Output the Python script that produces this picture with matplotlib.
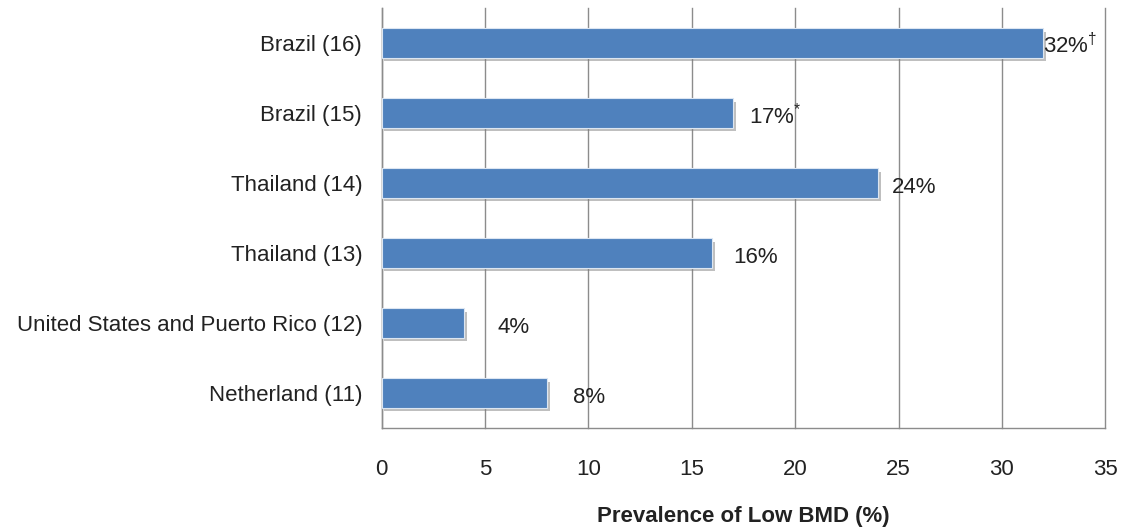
import matplotlib
matplotlib.use("Agg")
import matplotlib.pyplot as plt
from matplotlib import patheffects as pe

plt.rcParams['font.family'] = ['Liberation Sans', 'DejaVu Sans']
plt.rcParams['mathtext.fontset'] = 'custom'
plt.rcParams['mathtext.rm'] = 'Liberation Sans'
plt.rcParams['mathtext.it'] = 'Liberation Sans'

categories = ["Netherland (11)", "United States and Puerto Rico (12)", "Thailand (13)",
              "Thailand (14)", "Brazil (15)", "Brazil (16)"]
values = [8, 4, 16, 24, 17, 32]
labels = ["8%", "4%", "16%", "24%", r"17%$^{*}$", r"32%$^{\dagger}$"]
label_offsets = [1.25, 1.6, 1.0, 0.7, 0.75, 0.0]
xticks = [0, 5, 10, 15, 20, 25, 30, 35]

fig = plt.figure(figsize=(11.29, 5.29), dpi=100)
ax = fig.add_axes([0.338, 0.191, 0.641, 0.794])

pos = list(range(len(categories)))
bars = ax.barh(pos, values, height=0.42, color="#4F81BD", edgecolor="#DCE6F2",
               linewidth=0.8, zorder=3)
for b in bars:
    b.set_path_effects([pe.SimplePatchShadow(offset=(2, -2.5), shadow_rgbFace="#808080", alpha=0.5),
                        pe.Normal()])

for p, v, t, o in zip(pos, values, labels, label_offsets):
    ax.text(v + o, p - 0.15, t, va="baseline", ha="left", fontsize=16, color="#222222", zorder=4)

ax.set_xlim(0, 35)
ax.set_ylim(-0.5, 5.5)
ax.set_xticks(xticks)
ax.set_yticks(pos)
ax.set_yticklabels(categories)
ax.xaxis.grid(True, color="#8c8c8c", linewidth=1.0, zorder=0)
for gl in ax.get_xgridlines():
    gl.set_clip_on(False)
ax.set_axisbelow(True)
for s in ["top", "right"]:
    ax.spines[s].set_visible(False)
for s in ["left", "bottom"]:
    ax.spines[s].set_color("#8c8c8c")
    ax.spines[s].set_linewidth(1.0)
ax.tick_params(axis="x", length=0, pad=22, labelsize=16, labelcolor="#222222")
ax.tick_params(axis="y", length=0, pad=14, labelsize=16, labelcolor="#222222")
ax.set_xlabel("Prevalence of Low BMD (%)", fontsize=16, fontweight="bold",
              color="#222222", labelpad=19)

fig.savefig("out.png", dpi=100)
